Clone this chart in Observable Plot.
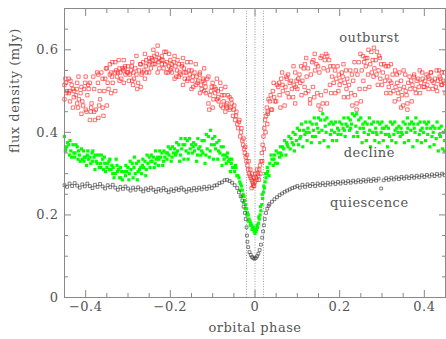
<!DOCTYPE html>
<html><head><meta charset="utf-8">
<script src="https://cdn.jsdelivr.net/npm/d3@7"></script>
<script src="https://cdn.jsdelivr.net/npm/@observablehq/plot@0.6"></script>
<style>html,body{margin:0;padding:0;background:#fff;} svg text{letter-spacing:0.5px;}</style>
</head><body><div id="chart"></div>
<script>
// [orbital phase, flux density (mJy)]
const outburst = [
[-0.45,0.515],[-0.44,0.53],[-0.43,0.505],[-0.42,0.52],[-0.41,0.51],[-0.40,0.535],[-0.39,0.52],[-0.38,0.505],[-0.37,0.54],[-0.36,0.53],[-0.35,0.555],[-0.34,0.545],[-0.33,0.57],[-0.32,0.555],[-0.31,0.575],[-0.30,0.56],[-0.29,0.57],[-0.28,0.585],[-0.27,0.565],[-0.26,0.59],[-0.25,0.58],[-0.24,0.60],[-0.23,0.61],[-0.22,0.585],[-0.21,0.595],[-0.20,0.575],[-0.19,0.585],[-0.18,0.565],[-0.17,0.58],[-0.16,0.57],[-0.15,0.55],[-0.14,0.565],[-0.13,0.545],[-0.12,0.555],[-0.11,0.535],[-0.10,0.52],[-0.09,0.53],[-0.08,0.505],[-0.07,0.51],[-0.06,0.485],
[-0.45,0.48],[-0.44,0.495],[-0.43,0.46],[-0.42,0.47],[-0.41,0.445],[-0.40,0.455],[-0.39,0.43],[-0.38,0.45],[-0.37,0.435],[-0.36,0.46],[-0.35,0.465],[-0.34,0.495],[-0.33,0.50],[-0.32,0.525],[-0.31,0.52],[-0.30,0.545],[-0.29,0.525],[-0.28,0.54],[-0.27,0.51],[-0.26,0.53],[-0.25,0.545],[-0.24,0.565],[-0.23,0.545],[-0.22,0.565],[-0.21,0.545],[-0.20,0.55],[-0.19,0.53],[-0.18,0.535],[-0.17,0.515],[-0.16,0.525],[-0.15,0.505],[-0.14,0.515],[-0.13,0.495],[-0.12,0.50],[-0.11,0.47],[-0.10,0.46],[-0.09,0.48],[-0.08,0.465],[-0.07,0.45],[-0.06,0.455],
[-0.444,0.50],[-0.436,0.525],[-0.423,0.49],[-0.417,0.535],[-0.404,0.505],[-0.394,0.515],[-0.387,0.46],[-0.373,0.545],[-0.367,0.50],[-0.354,0.53],[-0.343,0.54],[-0.337,0.57],[-0.324,0.545],[-0.313,0.555],[-0.307,0.56],[-0.293,0.55],[-0.287,0.545],[-0.274,0.55],[-0.264,0.57],[-0.257,0.575],[-0.244,0.58],[-0.233,0.575],[-0.227,0.58],[-0.214,0.595],[-0.203,0.56],[-0.197,0.565],[-0.184,0.55],[-0.173,0.56],[-0.167,0.545],[-0.154,0.54],[-0.147,0.535],[-0.134,0.525],[-0.123,0.53],[-0.117,0.51],[-0.104,0.50],[-0.094,0.495],[-0.087,0.485],[-0.074,0.475],[-0.066,0.47],
[-0.448,0.53],[-0.438,0.50],[-0.428,0.485],[-0.418,0.46],[-0.408,0.475],[-0.398,0.45],[-0.388,0.45],[-0.378,0.43],[-0.368,0.465],[-0.358,0.44],[-0.348,0.52],[-0.338,0.535],[-0.328,0.55],[-0.318,0.545],[-0.308,0.555],[-0.298,0.525],[-0.288,0.515],[-0.278,0.505],[-0.268,0.54],[-0.258,0.56],[-0.248,0.57],[-0.238,0.585],[-0.228,0.57],[-0.218,0.575],[-0.208,0.57],[-0.198,0.555],[-0.188,0.56],[-0.178,0.545],[-0.168,0.555],[-0.158,0.53],[-0.148,0.525],[-0.138,0.535],[-0.128,0.515],[-0.118,0.52],[-0.108,0.455],[-0.098,0.48],[-0.088,0.50],[-0.078,0.49],[-0.068,0.465],
[-0.447,0.52],[-0.433,0.515],[-0.421,0.505],[-0.412,0.495],[-0.401,0.52],[-0.393,0.505],[-0.382,0.535],[-0.371,0.52],[-0.363,0.545],[-0.352,0.555],[-0.343,0.565],[-0.331,0.545],[-0.322,0.575],[-0.311,0.55],[-0.302,0.545],[-0.291,0.56],[-0.283,0.555],[-0.271,0.565],[-0.262,0.55],[-0.251,0.565],[-0.243,0.575],[-0.232,0.59],[-0.221,0.575],[-0.212,0.565],[-0.203,0.59],[-0.192,0.57],[-0.183,0.575],[-0.172,0.565],[-0.163,0.545],[-0.152,0.57],[-0.143,0.545],[-0.131,0.54],[-0.122,0.525],[-0.113,0.53],[-0.102,0.51],[-0.093,0.505],[-0.082,0.52],[-0.073,0.49],[-0.064,0.49],
[-0.446,0.495],[-0.437,0.475],[-0.427,0.50],[-0.416,0.48],[-0.406,0.465],[-0.396,0.49],[-0.386,0.47],[-0.376,0.455],[-0.366,0.48],[-0.356,0.50],[-0.346,0.505],[-0.336,0.52],[-0.326,0.535],[-0.316,0.53],[-0.306,0.54],[-0.296,0.54],[-0.286,0.53],[-0.276,0.52],[-0.266,0.545],[-0.256,0.545],[-0.246,0.555],[-0.236,0.565],[-0.226,0.555],[-0.216,0.555],[-0.206,0.545],[-0.196,0.545],[-0.186,0.535],[-0.176,0.54],[-0.166,0.53],[-0.156,0.55],[-0.146,0.51],[-0.136,0.52],[-0.126,0.505],[-0.116,0.495],[-0.106,0.49],[-0.096,0.51],[-0.086,0.475],[-0.076,0.46],[-0.066,0.46],
[-0.058,0.46],[-0.055,0.47],[-0.052,0.44],[-0.05,0.455],[-0.047,0.43],[-0.045,0.44],[-0.042,0.42],[-0.04,0.41],[-0.038,0.425],[-0.035,0.39],[-0.033,0.40],[-0.03,0.38],[-0.028,0.37],[-0.026,0.36],[-0.024,0.35],[-0.022,0.34],[-0.02,0.33],[-0.018,0.32],[-0.016,0.31],[-0.014,0.30],[-0.012,0.295],[-0.01,0.29],[-0.008,0.285],[-0.006,0.28],[-0.004,0.275],[-0.002,0.27],[0.0,0.28],[0.002,0.29],[0.004,0.285],[0.006,0.30],[0.008,0.295],[0.01,0.31],[0.012,0.32],[0.014,0.33],[0.016,0.35],[0.018,0.37],[0.02,0.39],[0.022,0.41],[0.024,0.43],[0.026,0.44],[0.028,0.46],[0.03,0.45],
[-0.056,0.48],[-0.049,0.465],[-0.044,0.45],[-0.037,0.43],[-0.032,0.41],[-0.027,0.385],[-0.023,0.365],[-0.019,0.345],[-0.015,0.33],[-0.011,0.31],[-0.007,0.30],[-0.003,0.29],[0.001,0.30],[0.005,0.31],[0.009,0.285],[0.013,0.30],[0.017,0.33],[0.021,0.36],[0.025,0.40],[0.029,0.42],[-0.008,0.265],[-0.004,0.27],
[0.035,0.475],[0.045,0.485],[0.055,0.51],[0.065,0.515],[0.075,0.53],[0.085,0.525],[0.095,0.545],[0.105,0.54],[0.115,0.555],[0.125,0.555],[0.135,0.57],[0.145,0.565],[0.155,0.58],[0.165,0.575],[0.175,0.575],[0.185,0.56],[0.195,0.56],[0.205,0.545],[0.215,0.55],[0.225,0.55],[0.235,0.57],[0.245,0.57],[0.255,0.585],[0.265,0.58],[0.275,0.595],[0.285,0.575],[0.295,0.58],[0.305,0.565],[0.315,0.56],[0.325,0.54],[0.335,0.54],[0.345,0.525],[0.355,0.54],[0.365,0.535],[0.375,0.535],[0.385,0.53],[0.395,0.545],[0.405,0.54],[0.415,0.545],[0.425,0.53],[0.435,0.55],[0.445,0.525],
[0.03,0.445],[0.04,0.455],[0.05,0.475],[0.06,0.46],[0.07,0.465],[0.08,0.485],[0.09,0.485],[0.10,0.505],[0.11,0.49],[0.12,0.495],[0.13,0.48],[0.14,0.485],[0.15,0.465],[0.16,0.47],[0.17,0.47],[0.18,0.495],[0.19,0.495],[0.20,0.515],[0.21,0.485],[0.22,0.485],[0.23,0.465],[0.24,0.47],[0.25,0.475],[0.26,0.505],[0.27,0.51],[0.28,0.535],[0.29,0.515],[0.30,0.515],[0.31,0.495],[0.32,0.495],[0.33,0.475],[0.34,0.48],[0.35,0.465],[0.36,0.47],[0.37,0.475],[0.38,0.495],[0.39,0.495],[0.40,0.51],[0.41,0.505],[0.42,0.505],[0.43,0.50],[0.44,0.515],[0.45,0.495],
[0.032,0.48],[0.042,0.50],[0.052,0.515],[0.062,0.53],[0.072,0.51],[0.082,0.52],[0.092,0.515],[0.102,0.53],[0.112,0.525],[0.122,0.535],[0.132,0.54],[0.142,0.55],[0.152,0.545],[0.162,0.555],[0.172,0.55],[0.182,0.535],[0.192,0.53],[0.202,0.525],[0.212,0.52],[0.222,0.515],[0.232,0.525],[0.242,0.54],[0.252,0.55],[0.262,0.56],[0.272,0.565],[0.282,0.555],[0.292,0.55],[0.302,0.545],[0.312,0.535],[0.322,0.52],[0.332,0.51],[0.342,0.505],[0.352,0.51],[0.362,0.52],[0.372,0.515],[0.382,0.525],[0.392,0.52],[0.402,0.525],[0.412,0.53],[0.422,0.52],[0.432,0.525],[0.442,0.515],
[0.037,0.49],[0.047,0.475],[0.057,0.52],[0.066,0.50],[0.077,0.495],[0.087,0.505],[0.096,0.51],[0.107,0.52],[0.117,0.51],[0.126,0.50],[0.137,0.51],[0.147,0.495],[0.156,0.49],[0.167,0.50],[0.177,0.515],[0.186,0.52],[0.197,0.50],[0.207,0.535],[0.216,0.505],[0.227,0.495],[0.236,0.49],[0.247,0.505],[0.256,0.525],[0.267,0.54],[0.276,0.545],[0.287,0.54],[0.296,0.53],[0.307,0.525],[0.316,0.51],[0.327,0.50],[0.336,0.52],[0.347,0.49],[0.356,0.50],[0.367,0.505],[0.376,0.54],[0.387,0.51],[0.396,0.53],[0.407,0.515],[0.416,0.545],[0.427,0.51],[0.436,0.535],[0.447,0.52],
[0.044,0.52],[0.064,0.545],[0.074,0.535],[0.091,0.56],[0.109,0.56],[0.121,0.58],[0.141,0.59],[0.149,0.56],[0.171,0.585],[0.189,0.55],[0.209,0.565],[0.229,0.54],[0.249,0.59],[0.261,0.58],[0.281,0.605],[0.293,0.585],[0.309,0.56],[0.321,0.565],[0.331,0.55],[0.341,0.545],[0.351,0.55],[0.369,0.525],[0.389,0.55],[0.409,0.535],[0.429,0.55],[0.441,0.545],
[0.038,0.455],[0.058,0.49],[0.078,0.54],[0.098,0.525],[0.118,0.565],[0.138,0.575],[0.158,0.585],[0.168,0.59],[0.178,0.56],[0.198,0.54],[0.218,0.53],[0.238,0.55],[0.258,0.57],[0.268,0.60],[0.278,0.575],[0.288,0.595],[0.298,0.565],[0.318,0.525],[0.338,0.495],[0.358,0.49],[0.378,0.505],[0.398,0.51],[0.418,0.525],[0.438,0.53],[0.448,0.545],
[0.155,0.455],[0.345,0.46],[0.36,0.455],[0.24,0.455],[0.13,0.47],[0.095,0.47]
];
const decline = [
[-0.45,0.39],[-0.445,0.365],[-0.44,0.37],[-0.435,0.355],[-0.43,0.37],[-0.425,0.35],[-0.42,0.365],[-0.415,0.345],[-0.41,0.36],[-0.405,0.355],[-0.40,0.34],[-0.395,0.355],[-0.39,0.34],[-0.385,0.35],[-0.38,0.34],[-0.375,0.33],[-0.37,0.345],[-0.365,0.325],[-0.36,0.335],[-0.355,0.325],[-0.35,0.315],[-0.345,0.33],[-0.34,0.31],[-0.335,0.315],[-0.33,0.30],[-0.325,0.305],[-0.32,0.29],[-0.315,0.305],[-0.31,0.305],[-0.305,0.32],[-0.30,0.315],[-0.295,0.33],[-0.29,0.325],[-0.285,0.34],[-0.28,0.325],[-0.275,0.33],[-0.27,0.315],[-0.265,0.335],[-0.26,0.33],[-0.255,0.345],[-0.25,0.34],[-0.245,0.345],[-0.24,0.34],[-0.235,0.355],[-0.23,0.34],[-0.225,0.355],[-0.22,0.35],[-0.215,0.355],[-0.21,0.35],[-0.205,0.365],[-0.20,0.36],[-0.195,0.365],[-0.19,0.36],[-0.185,0.375],[-0.18,0.37],[-0.175,0.385],[-0.17,0.37],[-0.165,0.385],[-0.16,0.38],[-0.155,0.385],[-0.15,0.37],[-0.145,0.375],[-0.14,0.37],[-0.135,0.385],[-0.13,0.365],[-0.125,0.38],[-0.12,0.38],[-0.115,0.395],[-0.11,0.39],[-0.105,0.405],[-0.10,0.385],[-0.095,0.39],[-0.09,0.375],[-0.085,0.38],[-0.08,0.365],[-0.075,0.365],[-0.07,0.345],[-0.065,0.35],[-0.06,0.335],[-0.055,0.335],[-0.05,0.315],[-0.045,0.315],[-0.04,0.295],
[-0.448,0.355],[-0.438,0.345],[-0.428,0.35],[-0.418,0.335],[-0.408,0.335],[-0.398,0.32],[-0.388,0.325],[-0.378,0.31],[-0.368,0.315],[-0.358,0.31],[-0.348,0.325],[-0.338,0.32],[-0.328,0.335],[-0.318,0.315],[-0.308,0.305],[-0.298,0.285],[-0.288,0.29],[-0.278,0.285],[-0.268,0.30],[-0.258,0.295],[-0.248,0.315],[-0.238,0.315],[-0.228,0.32],[-0.218,0.32],[-0.208,0.335],[-0.198,0.33],[-0.188,0.345],[-0.178,0.33],[-0.168,0.335],[-0.158,0.335],[-0.148,0.35],[-0.138,0.33],[-0.128,0.345],[-0.118,0.325],[-0.108,0.34],[-0.098,0.335],[-0.088,0.335],[-0.078,0.32],[-0.068,0.325],[-0.058,0.305],[-0.048,0.305],
[-0.443,0.375],[-0.433,0.34],[-0.423,0.37],[-0.413,0.33],[-0.403,0.34],[-0.393,0.335],[-0.383,0.355],[-0.373,0.325],[-0.363,0.345],[-0.353,0.305],[-0.343,0.335],[-0.333,0.29],[-0.323,0.31],[-0.313,0.285],[-0.303,0.305],[-0.293,0.31],[-0.283,0.30],[-0.273,0.31],[-0.263,0.315],[-0.253,0.325],[-0.243,0.33],[-0.233,0.335],[-0.223,0.34],[-0.213,0.34],[-0.203,0.345],[-0.193,0.35],[-0.183,0.355],[-0.173,0.36],[-0.163,0.355],[-0.153,0.36],[-0.143,0.355],[-0.133,0.36],[-0.123,0.35],[-0.113,0.36],[-0.103,0.37],[-0.093,0.36],[-0.083,0.35],[-0.073,0.335],[-0.063,0.33],[-0.053,0.315],[-0.043,0.295],
[-0.447,0.36],[-0.437,0.38],[-0.426,0.34],[-0.417,0.355],[-0.404,0.33],[-0.396,0.345],[-0.384,0.33],[-0.377,0.345],[-0.364,0.315],[-0.356,0.34],[-0.344,0.31],[-0.336,0.30],[-0.326,0.32],[-0.317,0.29],[-0.306,0.295],[-0.297,0.30],[-0.286,0.315],[-0.276,0.305],[-0.266,0.32],[-0.257,0.31],[-0.246,0.33],[-0.236,0.325],[-0.227,0.335],[-0.216,0.33],[-0.207,0.35],[-0.196,0.34],[-0.186,0.35],[-0.176,0.345],[-0.166,0.37],[-0.157,0.35],[-0.146,0.365],[-0.136,0.345],[-0.126,0.355],[-0.116,0.345],[-0.106,0.355],[-0.096,0.37],[-0.086,0.355],[-0.076,0.345],[-0.066,0.34],[-0.056,0.325],[-0.046,0.32],
[-0.038,0.29],[-0.036,0.28],[-0.034,0.275],[-0.032,0.27],[-0.03,0.26],[-0.028,0.25],[-0.026,0.245],[-0.024,0.235],[-0.022,0.225],[-0.02,0.215],[-0.018,0.205],[-0.016,0.20],[-0.014,0.19],[-0.012,0.185],[-0.01,0.18],[-0.008,0.175],[-0.006,0.17],[-0.004,0.165],[-0.002,0.16],[0.0,0.155],[0.002,0.16],[0.004,0.165],[0.006,0.17],[0.008,0.18],[0.01,0.19],[0.012,0.20],[0.014,0.21],[0.016,0.225],[0.018,0.24],[0.02,0.255],[0.022,0.265],[0.024,0.28],[0.026,0.29],[0.028,0.30],[0.03,0.305],
[-0.035,0.26],[-0.031,0.245],[-0.027,0.23],[-0.023,0.215],[-0.019,0.20],[-0.015,0.185],[-0.011,0.175],[-0.007,0.165],[-0.003,0.17],[0.001,0.165],[0.005,0.175],[0.009,0.195],[0.013,0.22],[0.017,0.25],[0.021,0.27],[0.025,0.30],[0.029,0.315],
[0.035,0.325],[0.04,0.335],[0.045,0.335],[0.05,0.355],[0.055,0.35],[0.06,0.365],[0.065,0.365],[0.07,0.38],[0.075,0.375],[0.08,0.39],[0.085,0.385],[0.09,0.40],[0.095,0.395],[0.10,0.41],[0.105,0.405],[0.11,0.42],[0.115,0.405],[0.12,0.425],[0.125,0.41],[0.13,0.425],[0.135,0.42],[0.14,0.435],[0.145,0.42],[0.15,0.435],[0.155,0.43],[0.16,0.445],[0.165,0.43],[0.17,0.435],[0.175,0.42],[0.18,0.425],[0.185,0.42],[0.19,0.425],[0.195,0.41],[0.20,0.425],[0.205,0.42],[0.21,0.435],[0.215,0.42],[0.22,0.435],[0.225,0.43],[0.23,0.445],[0.235,0.44],[0.24,0.445],[0.245,0.43],[0.25,0.435],[0.255,0.42],[0.26,0.425],[0.265,0.42],[0.27,0.435],[0.275,0.42],[0.28,0.425],[0.285,0.41],[0.29,0.425],[0.295,0.42],[0.30,0.425],[0.305,0.41],[0.31,0.415],[0.315,0.41],[0.32,0.425],[0.325,0.42],[0.33,0.425],[0.335,0.41],[0.34,0.415],[0.345,0.41],[0.35,0.425],[0.355,0.42],[0.36,0.435],[0.365,0.42],[0.37,0.425],[0.375,0.42],[0.38,0.435],[0.385,0.42],[0.39,0.425],[0.395,0.41],[0.40,0.425],[0.405,0.42],[0.41,0.425],[0.415,0.41],[0.42,0.415],[0.425,0.41],[0.43,0.425],[0.435,0.41],[0.44,0.415],[0.445,0.40],[0.45,0.405],
[0.033,0.295],[0.043,0.32],[0.053,0.325],[0.063,0.345],[0.073,0.345],[0.083,0.36],[0.093,0.355],[0.103,0.37],[0.113,0.365],[0.123,0.38],[0.133,0.375],[0.143,0.39],[0.153,0.375],[0.163,0.38],[0.173,0.365],[0.183,0.38],[0.193,0.38],[0.203,0.395],[0.213,0.39],[0.223,0.405],[0.233,0.39],[0.243,0.39],[0.253,0.375],[0.263,0.38],[0.273,0.365],[0.283,0.38],[0.293,0.375],[0.303,0.38],[0.313,0.365],[0.323,0.38],[0.333,0.375],[0.343,0.39],[0.353,0.375],[0.363,0.38],[0.373,0.365],[0.383,0.38],[0.393,0.375],[0.403,0.38],[0.413,0.365],[0.423,0.37],[0.433,0.355],[0.443,0.36],[0.448,0.355],
[0.038,0.345],[0.048,0.325],[0.058,0.34],[0.068,0.36],[0.078,0.365],[0.088,0.375],[0.098,0.38],[0.108,0.39],[0.118,0.395],[0.128,0.40],[0.138,0.405],[0.148,0.41],[0.158,0.405],[0.168,0.40],[0.178,0.395],[0.188,0.40],[0.198,0.405],[0.208,0.41],[0.218,0.415],[0.228,0.42],[0.238,0.415],[0.248,0.41],[0.258,0.40],[0.268,0.395],[0.278,0.40],[0.288,0.395],[0.298,0.40],[0.308,0.395],[0.318,0.39],[0.328,0.395],[0.338,0.40],[0.348,0.395],[0.358,0.40],[0.368,0.405],[0.378,0.40],[0.388,0.395],[0.398,0.40],[0.408,0.395],[0.418,0.39],[0.428,0.385],[0.438,0.39],[0.448,0.38],
[0.046,0.345],[0.061,0.35],[0.076,0.37],[0.091,0.37],[0.106,0.385],[0.121,0.40],[0.136,0.39],[0.151,0.40],[0.166,0.415],[0.181,0.405],[0.196,0.395],[0.211,0.405],[0.226,0.41],[0.241,0.40],[0.256,0.41],[0.271,0.405],[0.286,0.40],[0.301,0.41],[0.316,0.395],[0.331,0.405],[0.346,0.40],[0.361,0.41],[0.376,0.41],[0.391,0.405],[0.406,0.41],[0.421,0.40],[0.436,0.395]
];
const quiescence = [
[-0.45,0.272],[-0.444,0.268],[-0.438,0.276],[-0.432,0.27],[-0.426,0.277],[-0.42,0.271],[-0.414,0.266],[-0.408,0.274],[-0.402,0.269],[-0.396,0.276],[-0.39,0.27],[-0.384,0.265],[-0.378,0.273],[-0.372,0.268],[-0.366,0.275],[-0.36,0.269],[-0.354,0.264],[-0.348,0.272],[-0.342,0.267],[-0.336,0.273],[-0.33,0.266],[-0.324,0.261],[-0.318,0.268],[-0.312,0.263],[-0.306,0.269],[-0.30,0.264],[-0.294,0.259],[-0.288,0.266],[-0.282,0.261],[-0.276,0.267],[-0.27,0.262],[-0.264,0.257],[-0.258,0.264],[-0.252,0.26],[-0.246,0.266],[-0.24,0.261],[-0.234,0.256],[-0.228,0.263],[-0.222,0.259],[-0.216,0.265],[-0.21,0.26],[-0.204,0.255],[-0.198,0.262],[-0.192,0.258],[-0.186,0.264],[-0.18,0.26],[-0.174,0.266],[-0.168,0.261],[-0.162,0.256],[-0.156,0.263],[-0.15,0.259],[-0.144,0.265],[-0.138,0.26],[-0.132,0.266],[-0.126,0.262],[-0.12,0.268],[-0.114,0.263],[-0.108,0.269],[-0.102,0.265],[-0.096,0.271],[-0.09,0.272],[-0.084,0.277],[-0.078,0.279],[-0.072,0.284],[-0.066,0.285],[-0.06,0.282],[-0.054,0.278],[-0.048,0.272],[-0.042,0.265],
[-0.038,0.255],[-0.034,0.245],[-0.03,0.235],[-0.027,0.22],[-0.024,0.205],[-0.022,0.19],[-0.02,0.17],[-0.019,0.15],[-0.018,0.135],[-0.016,0.122],[-0.013,0.11],[-0.01,0.103],[-0.007,0.098],[-0.004,0.095],[-0.001,0.094],[0.002,0.096],[0.005,0.1],[0.008,0.106],[0.011,0.115],[0.014,0.128],[0.017,0.145],[0.019,0.16],[0.021,0.175],[0.023,0.19],[0.026,0.205],[0.029,0.215],[0.032,0.222],
[0.034,0.226],[0.04,0.232],[0.046,0.238],[0.052,0.243],[0.058,0.248],[0.064,0.252],[0.07,0.256],[0.076,0.259],[0.082,0.262],[0.088,0.265],[0.094,0.267],[0.1,0.27],[0.106,0.266],[0.112,0.273],[0.118,0.268],[0.124,0.274],[0.13,0.27],[0.136,0.275],[0.142,0.27],[0.148,0.276],[0.154,0.272],[0.16,0.277],[0.166,0.272],[0.172,0.278],[0.178,0.274],[0.184,0.279],[0.19,0.275],[0.196,0.28],[0.202,0.276],[0.208,0.281],[0.214,0.277],[0.22,0.282],[0.226,0.278],[0.232,0.283],[0.238,0.279],[0.244,0.284],[0.25,0.28],[0.256,0.285],[0.262,0.281],[0.268,0.286],[0.274,0.282],[0.28,0.287],[0.286,0.283],[0.292,0.288],[0.298,0.264],[0.304,0.284],[0.31,0.289],[0.316,0.285],[0.322,0.29],[0.328,0.286],[0.334,0.291],[0.34,0.287],[0.346,0.292],[0.352,0.288],[0.358,0.293],[0.364,0.289],[0.37,0.294],[0.376,0.29],[0.382,0.295],[0.388,0.291],[0.394,0.296],[0.4,0.292],[0.406,0.297],[0.412,0.293],[0.418,0.298],[0.424,0.294],[0.43,0.299],[0.436,0.295],[0.442,0.3],[0.448,0.296]
];
const eclipseMarks = [-0.02, 0, 0.02];
const xMajor = [-0.4, -0.2, 0, 0.2, 0.4];
const xMinor = [-0.35, -0.3, -0.25, -0.15, -0.1, -0.05, 0.05, 0.1, 0.15, 0.25, 0.3, 0.35];
const yMajor = [0, 0.2, 0.4, 0.6];
const yMinor = [0.05, 0.1, 0.15, 0.25, 0.3, 0.35, 0.45, 0.5, 0.55, 0.65];
const labelNames = ["outburst", "decline", "quiescence"];
const labelPhase = [0.27, 0.27, 0.27];
const labelFlux = [0.628, 0.35, 0.229];
const labels = labelNames.map((name, i) => ({name, phase: labelPhase[i], flux: labelFlux[i]}));

const fmt = d3.format("");
const frameColor = "#888";
const textColor = "#555";

const chart = Plot.plot({
  width: 446, height: 339,
  marginLeft: 64, marginRight: 1, marginTop: 8, marginBottom: 42,
  x: {domain: [-0.45, 0.45]},
  y: {domain: [0, 0.7]},
  style: {fontFamily: "DejaVu Serif", fontSize: "13px", color: textColor, background: "#fff"},
  marks: [
    Plot.ruleX(eclipseMarks, {stroke: "#999", strokeDasharray: "1,1.6", strokeWidth: 1}),
    Plot.dot(outburst, {x: d => d[0], y: d => d[1], symbol: "square", r: 1.9, fill: "none", stroke: "#ff1a1a", strokeWidth: 0.6}),
    Plot.dot(decline, {x: d => d[0], y: d => d[1], symbol: "square", r: 1.8, fill: "#00ff00", stroke: "none"}),
    Plot.dot(quiescence, {x: d => d[0], y: d => d[1], symbol: "square", r: 1.6, fill: "none", stroke: "#333", strokeWidth: 0.6}),
    Plot.axisX({ticks: xMinor, anchor: "bottom", tickSize: -4, tickFormat: () => "", stroke: frameColor, label: null}),
    Plot.axisX({ticks: xMajor, anchor: "bottom", tickSize: -7, tickFormat: () => "", stroke: frameColor, label: null}),
    Plot.axisX({ticks: xMinor, anchor: "top", tickSize: -4, tickFormat: () => "", stroke: frameColor, label: null}),
    Plot.axisX({ticks: xMajor, anchor: "top", tickSize: -7, tickFormat: () => "", stroke: frameColor, label: null}),
    Plot.axisX({ticks: xMajor, anchor: "bottom", tickSize: 0, tickPadding: 4, tickFormat: fmt, fill: textColor, fontSize: 13, label: null}),
    Plot.axisY({ticks: yMinor, anchor: "left", tickSize: -4, tickFormat: () => "", stroke: frameColor, label: null}),
    Plot.axisY({ticks: yMajor, anchor: "left", tickSize: -7, tickFormat: () => "", stroke: frameColor, label: null}),
    Plot.axisY({ticks: yMinor, anchor: "right", tickSize: -4, tickFormat: () => "", stroke: frameColor, label: null}),
    Plot.axisY({ticks: yMajor, anchor: "right", tickSize: -7, tickFormat: () => "", stroke: frameColor, label: null}),
    Plot.axisY({ticks: yMajor, anchor: "left", tickSize: 0, tickPadding: 6, tickFormat: fmt, fill: textColor, fontSize: 13, label: null}),
    Plot.frame({stroke: frameColor}),
    Plot.text(labels, {x: "phase", y: "flux", text: "name", fill: textColor, fontSize: 13}),
    Plot.text(["orbital phase"], {frameAnchor: "bottom", lineAnchor: "middle", dy: 30, fill: textColor, fontSize: 13}),
    Plot.text(["flux density (mJy)"], {frameAnchor: "left", rotate: -90, dx: -50, lineAnchor: "middle", fill: textColor, fontSize: 13})
  ]
});
document.getElementById("chart").appendChild(chart);
</script>
</body></html>
